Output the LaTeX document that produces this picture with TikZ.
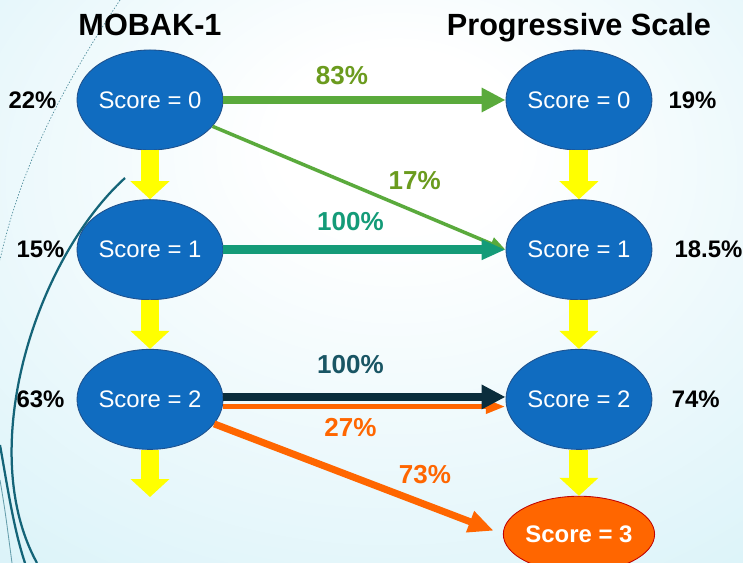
\documentclass[tikz,border=0pt]{standalone}
\usepackage{fontspec}
\setmainfont{Liberation Sans}
\usetikzlibrary{arrows.meta,positioning,shapes.geometric}

\definecolor{scoreblue}{RGB}{16,108,192}
\definecolor{scoreedge}{RGB}{30,80,140}
\definecolor{flowyellow}{RGB}{255,255,0}
\definecolor{leafgreen}{RGB}{90,170,60}
\definecolor{olivetext}{RGB}{107,155,30}
\definecolor{seagreen}{RGB}{20,155,120}
\definecolor{inkteal}{RGB}{10,45,60}
\definecolor{inktext}{RGB}{25,85,100}
\definecolor{hotorange}{RGB}{255,102,0}
\definecolor{darkred}{RGB}{192,0,0}
\definecolor{bgedge}{RGB}{204,238,246}
\definecolor{wisp}{RGB}{20,100,120}

\pgfdeclareradialshading{backdrop}{\pgfpoint{2bp}{14bp}}{color(0bp)=(white); color(8bp)=(white); color(55bp)=(bgedge); color(75bp)=(bgedge)}

\tikzset{
	score/.style = {ellipse, draw=scoreedge, line width=0.6pt, fill=scoreblue, text=white, inner sep=0pt,
		minimum width=3.65cm, minimum height=2.5cm, font=\fontsize{17}{20}\selectfont},
	finalscore/.style = {score, draw=darkred, fill=hotorange, minimum height=1.9cm,
		font=\bfseries\fontsize{17}{20}\selectfont},
	title/.style = {font=\bfseries\fontsize{21.8}{24}\selectfont},
	pct/.style = {font=\bfseries\fontsize{17}{20}\selectfont},
	flowlabel/.style = {font=\bfseries\fontsize{18.5}{22}\selectfont},
	flow/.style = {draw=flowyellow, line width=13.5pt, -{Triangle[length=12.8pt,width=27pt]}},
	fat/.style = {line width=5.7pt, -{Triangle[length=17pt,width=16.4pt]}},
	slim/.style = {line width=2.5pt, -{Triangle[length=11pt,width=9pt]}},
	medium/.style = {line width=3.5pt, -{Triangle[length=14pt,width=9.5pt]}},
}

\begin{document}
\begin{tikzpicture}[x=0.025cm, y=-0.025cm, node distance=1.22cm]
	\useasboundingbox (0,0) rectangle (743,563);
	\shade [shading=backdrop] (0,0) rectangle (743,563);
	\path [draw=wisp, line width=0.5pt, dash pattern=on 1pt off 1.2pt, opacity=0.7] (120,0) .. controls (60,90) and (20,170) .. (0,260);
	\path [draw=wisp, line width=1.6pt] (125,178) .. controls (35,260) and (-25,450) .. (37,563);
	\path [draw=wisp, line width=1.6pt] (0,445) .. controls (8,490) and (14,530) .. (25,563);
	\path [draw=wisp, line width=0.6pt, opacity=0.6] (0,480) .. controls (5,510) .. (12,563);

	\node (l0) [score] at (150,100) {Score = 0};
	\node (l1) [score, below=of l0] {Score = 1};
	\node (l2) [score, below=of l1] {Score = 2};
	\coordinate [below=1.18cm of l2.south] (l3);
	\node (r0) [score, right=7.05cm of l0] {Score = 0};
	\node (r1) [score, below=of r0] {Score = 1};
	\node (r2) [score, below=of r1] {Score = 2};
	\node (r3) [finalscore, below=1.15cm of r2] {Score = 3};

	\node (mobak) [title, above=0.22cm of l0] {MOBAK-1};
	\node (prog) [title, anchor=base] at (mobak.base -| r0) {Progressive Scale};

	\node (p0) [pct, left=0.38cm of l0] {22\%};
	\node (p1) [pct, left=0.18cm of l1] {15\%};
	\node (p2) [pct, left=0.18cm of l2] {63\%};
	\node (q0) [pct, right=0.28cm of r0] {19\%};
	\node (q1) [pct, right=0.43cm of r1] {18.5\%};
	\node (q2) [pct, right=0.36cm of r2] {74\%};

	\path [flow] (l0) -- (l1);
	\path [flow] (l1) -- (l2);
	\path [flow] (l2) -- (l3);
	\path [flow] (r0) -- (r1);
	\path [flow] (r1) -- (r2);
	\path [flow] (r2) -- (r3);

	\path [draw=leafgreen, fat] (l0) -- node [flowlabel, text=olivetext, above=4.5pt, pos=0.42] {83\%} (r0);
	\path [draw=leafgreen, slim] (l0) -- node [flowlabel, text=olivetext, above=11pt, pos=0.69] {17\%} (r1.west);
	\path [draw=seagreen, line width=6pt, -{Triangle[length=17pt,width=13.5pt]}] (l1) -- node [flowlabel, text=seagreen, above=7pt, pos=0.45] {100\%} (r1);
	\path [draw=hotorange, medium] ([yshift=-0.18cm]l2.east) -- node [flowlabel, text=hotorange, below=3pt, pos=0.45] {27\%} ([yshift=-0.18cm]r2.west);
	\path [draw=inkteal, fat] ([yshift=0.06cm]l2.east) -- node [flowlabel, text=inktext, above=10pt, pos=0.45] {100\%} ([yshift=0.06cm]r2.west);
	\path [draw=hotorange, line width=5pt, -{Triangle[length=18pt,width=15pt]}, shorten >=7pt] (l2) -- node [flowlabel, text=hotorange, above=9pt, pos=0.73] {73\%} (r3.west);
\end{tikzpicture}
\end{document}
